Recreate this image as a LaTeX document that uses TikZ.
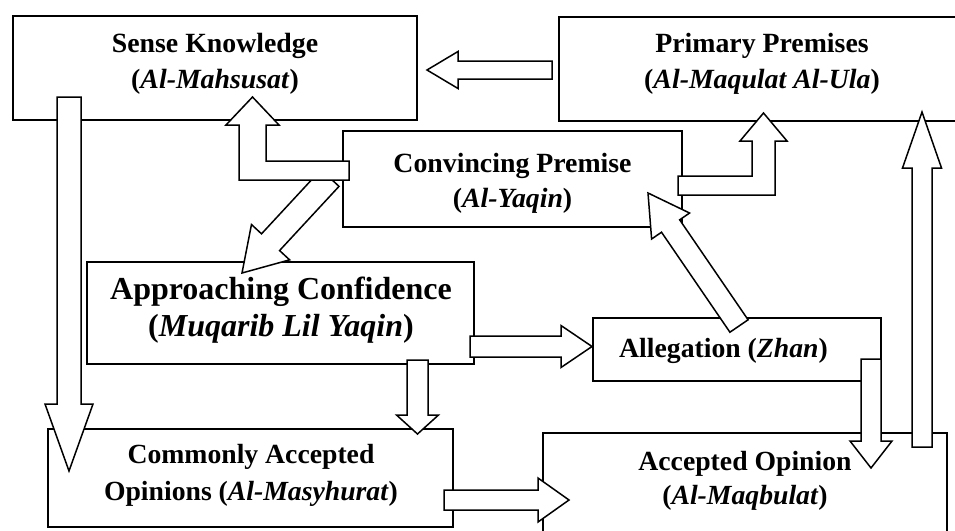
\documentclass[tikz,border=0pt]{standalone}
\usepackage{fontspec}
\setmainfont{Liberation Serif}
\usetikzlibrary{calc}
\tikzset{
  box/.style={draw, line width=2pt, fill=white, inner sep=0pt, outer sep=0pt},
  arr/.style={draw, line width=1.5pt, fill=white, line join=miter},
  txt/.style={align=center, inner sep=0pt, font=\bfseries},
}
\newcommand{\blockarr}[5]{%
  \coordinate (tmpH) at ($(#2)!#5!(#1)$);
  \draw[arr] ($(#1)!#3!90:(#2)$) -- ($(tmpH)!#3!90:(#2)$) -- ($(tmpH)!#4!90:(#2)$) -- (#2)
    -- ($(tmpH)!#4!-90:(#2)$) -- ($(tmpH)!#3!-90:(#2)$) -- ($(#1)!#3!-90:(#2)$) -- cycle;}
\begin{document}
\begin{tikzpicture}[x=1pt,y=-1pt]
\useasboundingbox (0,0) rectangle (955,530);
\begin{scope}
\clip (0,0) rectangle (955,530);
\fill[white] (0,0) rectangle (955,530);
% boxes
\node[box, minimum width=404pt, minimum height=104pt] (sense) at (215,68) {};
\node[box, minimum width=406pt, minimum height=104pt] (primary) at (762,69) {};
\node[box, minimum width=339pt, minimum height=96pt] (conv) at (512.5,179) {};
\node[box, minimum width=387pt, minimum height=102pt] (appr) at (280.5,313) {};
\node[box, minimum width=405pt, minimum height=98pt] (comm) at (250.5,478) {};
\node[box, minimum width=288pt, minimum height=63pt] (alleg) at (737,349.5) {};
\node[box, minimum width=404pt, minimum height=112pt] (accep) at (745,489) {};
% arrow end points
\coordinate (a1s) at (552,70);   \coordinate (a1e) at (427,70);
\coordinate (a2s) at (69,97);    \coordinate (a2e) at (69,471);
\coordinate (a4s) at (330,178);  \coordinate (a4e) at (242,273);
\coordinate (a6s) at (739,326);  \coordinate (a6e) at (648,193);
\coordinate (a7s) at (470,346.5);\coordinate (a7e) at (592,346.5);
\coordinate (a8s) at (417.5,360);\coordinate (a8e) at (417.5,434);
\coordinate (a9s) at (444,500);  \coordinate (a9e) at (569,500);
\coordinate (a10s) at (871,359); \coordinate (a10e) at (871,468);
\coordinate (a11s) at (922,447); \coordinate (a11e) at (922,112);
% arrows
\blockarr{a1s}{a1e}{9pt}{18.5pt}{31pt}
\blockarr{a2s}{a2e}{12pt}{24pt}{67pt}
\blockarr{a4s}{a4e}{12.3pt}{26pt}{42pt}
% elbow: Convincing -> Sense
\draw[arr] (349,161) -- (266,161) -- (266,125) -- (279,125) -- (252.5,97) -- (226,125)
  -- (239,125) -- (239,180) -- (349,180) -- cycle;
% elbow: Convincing -> Primary
\draw[arr] (678,176) -- (752,176) -- (752,141) -- (740,141) -- (763.5,113) -- (787,141)
  -- (775,141) -- (775,195) -- (678,195) -- cycle;
\blockarr{a6s}{a6e}{11pt}{23pt}{40pt}
\blockarr{a7s}{a7e}{10.5pt}{21pt}{31pt}
\blockarr{a8s}{a8e}{10.5pt}{21pt}{19pt}
\blockarr{a9s}{a9e}{10pt}{22pt}{31pt}
\blockarr{a10s}{a10e}{10pt}{21pt}{27pt}
\blockarr{a11s}{a11e}{10pt}{19.5pt}{56pt}
% texts
\node[txt, font=\fontsize{27.8}{36}\selectfont\bfseries] (senseT) at (215,64)
  {Sense Knowledge\\(\textit{Al-Mahsusat})};
\node[txt, font=\fontsize{27.8}{36}\selectfont\bfseries] (primaryT) at (762,64)
  {Primary Premises\\(\textit{Al-Maqulat Al-Ula})};
\node[txt, font=\fontsize{27.8}{35}\selectfont\bfseries] (convT) at (512.5,183.5)
  {Convincing Premise\\(\textit{Al-Yaqin})};
\node[txt, font=\fontsize{32}{36.5}\selectfont\bfseries] (apprT) at (281,310)
  {Approaching Confidence\\(\textit{Muqarib Lil Yaqin})};
\node[txt, font=\fontsize{27.7}{36.5}\selectfont\bfseries] (commT) at (251,475.5)
  {Commonly Accepted\\Opinions (\textit{Al-Masyhurat})};
\node[txt, font=\fontsize{27.7}{34}\selectfont\bfseries, anchor=base] (allegT) at (723.5,357)
  {Allegation (\textit{Zhan})};
\node[txt, font=\fontsize{27.7}{34}\selectfont\bfseries] (accepT) at (745,481)
  {Accepted Opinion\\(\textit{Al-Maqbulat})};
\end{scope}
\end{tikzpicture}
\end{document}
